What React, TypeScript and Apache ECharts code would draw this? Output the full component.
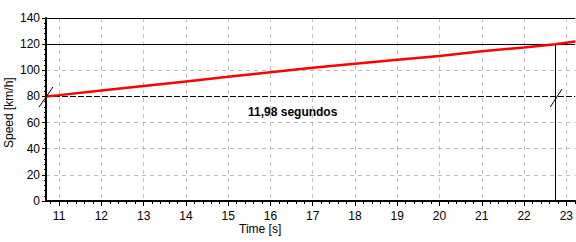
import React, { useEffect, useRef } from "react";
import * as echarts from "echarts";

const timeS = [10.69, 11, 12, 13, 14, 15, 16, 17, 18, 19, 20, 21, 22, 22.74, 23.21];
const speedKmh = [80, 81, 84.5, 88, 91.5, 95, 98.5, 102, 105, 108, 111, 114.5, 117.5, 120, 122];
const xTicks = [11, 12, 13, 14, 15, 16, 17, 18, 19, 20, 21, 22, 23];
const xMin = 10.69;
const xMax = 23.21;
const startSpeed = 80;
const endSpeed = 120;
const endTime = 22.74;
const durationLabel = "11,98 segundos";

const FONT = "Liberation Sans, Arial, sans-serif";

export default function App() {
  const ref = useRef<HTMLDivElement>(null);
  useEffect(() => {
    if (!ref.current) return;
    const chart = echarts.init(ref.current, null, { renderer: "svg" });
    const minor: number[] = [];
    for (let i = 54; i <= 116; i++) {
      const v = i / 5;
      if (v >= xMin && v <= xMax && Math.abs(v - Math.round(v)) > 1e-6) minor.push(v);
    }
    const black = { color: "#000", width: 1, type: "solid" as const };
    chart.setOption({
      animation: false,
      textStyle: { fontFamily: FONT },
      grid: { left: 46, top: 18, right: 0, bottom: 41 },
      xAxis: [
        {
          type: "value",
          min: xMin,
          max: xMax,
          axisLine: { show: true, onZero: false, lineStyle: { color: "#000", width: 2 } },
          axisTick: { show: true, customValues: xTicks, length: 5, lineStyle: { color: "#000" } },
          axisLabel: { customValues: xTicks, color: "#000", fontSize: 12, fontFamily: FONT, margin: 9 },
          splitLine: { show: true, lineStyle: { color: "#bdbdbd", type: [4, 4], width: 1 } },
        },
        {
          type: "value",
          position: "bottom",
          min: xMin,
          max: xMax,
          axisLine: { show: false },
          axisTick: { show: true, customValues: minor, length: 3, lineStyle: { color: "#000" } },
          axisLabel: { show: false },
          splitLine: { show: false },
        },
      ],
      yAxis: {
        type: "value",
        min: 0,
        max: 140,
        interval: 20,
        axisLine: { show: true, lineStyle: { color: "#000", width: 2 } },
        axisTick: { show: true, length: 4, lineStyle: { color: "#000" } },
        minorTick: { show: true, splitNumber: 5, length: 2, lineStyle: { color: "#000" } },
        axisLabel: { color: "#000", fontSize: 12, fontFamily: FONT, margin: 6 },
        splitLine: { show: true, lineStyle: { color: "#bdbdbd", type: [4, 4], width: 1 } },
      },
      series: [
        {
          type: "line",
          data: timeS.map((t, i) => [t, speedKmh[i]]),
          symbol: "none",
          clip: false,
          z: 5,
          lineStyle: { color: "#ff0000", width: 2.5 },
          markLine: {
            silent: true,
            symbol: "none",
            label: { show: false },
            z: 3,
            data: [
              [{ coord: [xMin, 140], lineStyle: black }, { coord: [xMax, 140] }],
              [{ coord: [xMin, endSpeed], lineStyle: black }, { coord: [xMax, endSpeed] }],
              [
                { coord: [xMin, startSpeed], lineStyle: { color: "#000", width: 1, type: [6, 2] } },
                { coord: [xMax, startSpeed] },
              ],
              [{ coord: [endTime, endSpeed], lineStyle: black }, { coord: [endTime, 0] }],
            ],
          },
        },
      ],
      graphic: [
        {
          id: "dur",
          type: "text",
          left: 248,
          top: 106,
          style: { text: durationLabel, font: `bold 12px ${FONT}`, fill: "#000" },
        },
        {
          id: "xname",
          type: "text",
          left: 239,
          top: 223,
          style: { text: "Time [s]", font: `12px ${FONT}`, fill: "#000" },
        },
        {
          id: "yname",
          type: "text",
          x: 3,
          y: 148,
          rotation: Math.PI / 2,
          style: { text: "Speed [km/h]", font: `12px ${FONT}`, fill: "#000" },
        },
      ],
    });
    const slashes = [
      [[10.525, 71.9], [10.855, 87.2]],
      [[22.62, 71.9], [22.9, 85.7]],
    ];
    const lines = slashes.map(([a, b], i) => {
      const p1 = chart.convertToPixel({ gridIndex: 0 }, a) as number[];
      const p2 = chart.convertToPixel({ gridIndex: 0 }, b) as number[];
      return {
        id: "slash" + i,
        type: "line",
        z: 10,
        shape: { x1: p1[0], y1: p1[1], x2: p2[0], y2: p2[1] },
        style: { stroke: "#000", lineWidth: 1 },
      };
    });
    chart.setOption({ graphic: lines });
    return () => chart.dispose();
  }, []);
  return <div ref={ref} style={{ width: 576, height: 242, position: "absolute", left: 0, top: 0 }} />;
}
